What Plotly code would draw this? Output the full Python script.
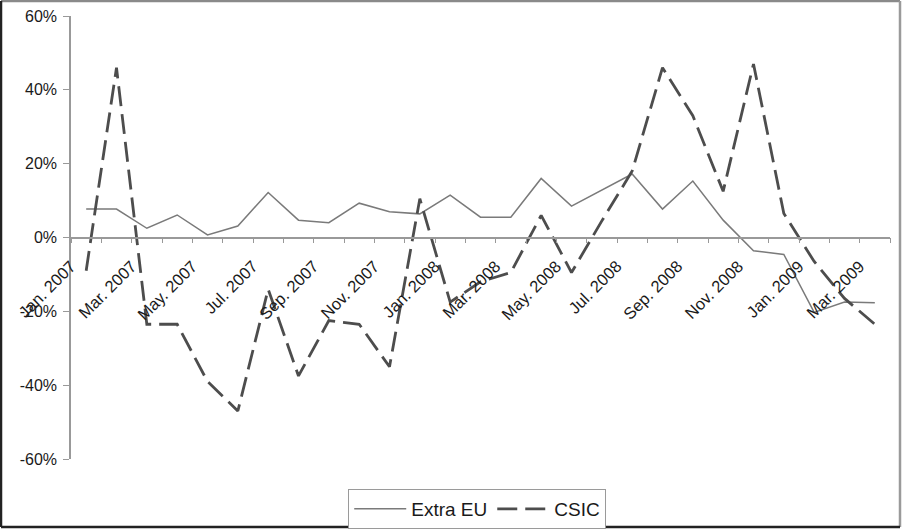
import plotly.graph_objects as go

months = ["Jan. 2007", "Feb. 2007", "Mar. 2007", "Apr. 2007", "May. 2007", "Jun. 2007",
          "Jul. 2007", "Aug. 2007", "Sep. 2007", "Oct. 2007", "Nov. 2007", "Dec. 2007",
          "Jan. 2008", "Feb. 2008", "Mar. 2008", "Apr. 2008", "May. 2008", "Jun. 2008",
          "Jul. 2008", "Aug. 2008", "Sep. 2008", "Oct. 2008", "Nov. 2008", "Dec. 2008",
          "Jan. 2009", "Feb. 2009", "Mar. 2009"]

extra_eu = [7.7, 7.7, 2.5, 6.1, 0.7, 3.1, 12.2, 4.7, 4.0, 9.3, 7.0, 6.4, 11.5, 5.5,
            5.5, 16.0, 8.5, 12.9, 17.2, 7.7, 15.3, 4.7, -3.6, -4.6, -20.3, -17.5, -17.7]

csic = [-9.0, 46.0, -23.5, -23.5, -39.0, -47.0, -14.0, -37.5, -22.5, -23.5, -35.0, 10.5,
        -17.5, -12.0, -9.5, 6.0, -9.5, 4.5, 18.0, 46.0, 33.0, 12.5, 47.0, 6.5, -6.5,
        -16.5, -23.5]

y_ticks = [-60, -40, -20, 0, 20, 40, 60]

idx = list(range(len(months)))
# tick marks sit on category boundaries; every other boundary carries a month label
tick_pos = [k - 0.5 for k in range(len(months) + 1)]
tick_txt = [months[k] if (k % 2 == 0 and k < len(months)) else "" for k in range(len(months) + 1)]

FONT = "Arial, Liberation Sans, sans-serif"

fig = go.Figure()
fig.add_trace(go.Scatter(x=idx, y=extra_eu, name="Extra EU", mode="lines",
                         line=dict(color="#7a7a7a", width=1.5)))
fig.add_trace(go.Scatter(x=idx, y=csic, name="CSIC", mode="lines",
                         line=dict(color="#4d4d4d", width=2.8, dash="20px,8px")))

L, R, T, B = 71, 14, 16, 70
W, H = 904, 529
pw, ph = W - L - R, H - T - B

def px_x(px):
    return (px - L) / pw

def px_y(py):
    return (H - B - py) / ph

fig.update_layout(
    width=W, height=H,
    margin=dict(l=L, r=R, t=T, b=B, pad=0, autoexpand=False),
    paper_bgcolor="white", plot_bgcolor="white",
    font=dict(family=FONT, color="#1a1a1a"),
    showlegend=True,
    legend=dict(orientation="h", x=0.496, xanchor="center", y=px_y(489), yanchor="top",
                bordercolor="#9a9a9a", borderwidth=1, font=dict(size=19, family=FONT),
                itemwidth=52, bgcolor="white", tracegroupgap=0),
    xaxis=dict(range=[-0.5, len(months) - 0.5], anchor="free", position=0.5,
               showgrid=False, zeroline=False, showline=True, linecolor="#999999",
               linewidth=1.5, ticks="outside", ticklen=5, tickcolor="#999999",
               tickmode="array", tickvals=tick_pos, ticktext=tick_txt,
               tickangle=-45, ticklabelstandoff=7,
               tickfont=dict(size=16.5, family=FONT, color="#1a1a1a"),
               automargin=False),
    yaxis=dict(range=[-60, 60], showgrid=False, zeroline=False, showline=True,
               linecolor="#999999", linewidth=1.5, ticks="outside", ticklen=6,
               tickcolor="#999999", tickmode="array", tickvals=y_ticks,
               ticktext=[f"{v}%" for v in y_ticks], ticklabelstandoff=3,
               tickfont=dict(size=16, family=FONT, color="#1a1a1a"), automargin=False),
)

# outer frame of the chart
frame = [
    (px_x(1), px_y(1), px_x(900), px_y(1), "#8a8a8a"),
    (px_x(900), px_y(1), px_x(900), px_y(527), "#9a9a9a"),
    (px_x(1), px_y(1), px_x(1), px_y(527), "#222222"),
    (px_x(1), px_y(527), px_x(900), px_y(527), "#222222"),
]
for x0, y0, x1, y1, c in frame:
    fig.add_shape(type="line", xref="paper", yref="paper", x0=x0, y0=y0, x1=x1, y1=y1,
                  line=dict(color=c, width=2.5))

fig.write_html("out.html", config={"displayModeBar": False},
               post_script="document.body.style.margin='0px';document.body.style.overflow='hidden';")
